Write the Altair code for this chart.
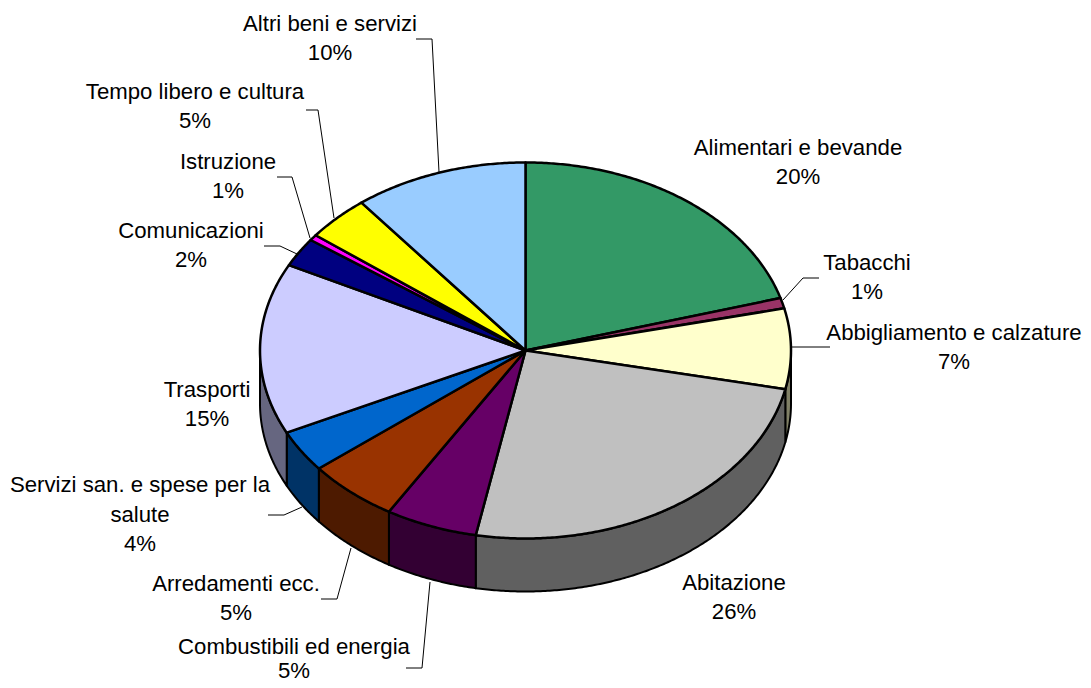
import math
import altair as alt
import pandas as pd

categories = ["Alimentari e bevande", "Tabacchi", "Abbigliamento e calzature", "Abitazione",
              "Combustibili ed energia", "Arredamenti ecc.", "Servizi san. e spese per la\nsalute",
              "Trasporti", "Comunicazioni", "Istruzione", "Tempo libero e cultura", "Altri beni e servizi"]
# share of the pie as drawn (slice sizes)
shares = [20.5, 0.9, 6.9, 24.7, 5.6, 5.6, 3.6, 14.7, 2.5, 0.5, 3.9, 10.6]
# percentages as printed on the labels
printed = [20, 1, 7, 26, 5, 5, 4, 15, 2, 1, 5, 10]
top_colors = ["#339966", "#993366", "#FFFFCC", "#C0C0C0", "#660066", "#993300",
              "#0066CC", "#CCCCFF", "#000080", "#FF00FF", "#FFFF00", "#99CCFF"]
side_colors = ["#1A4D33", "#4D1A33", "#808066", "#606060", "#330033", "#4D1A00",
               "#003366", "#666680", "#000040", "#800080", "#808000", "#4D6680"]

# layout of the labels: centre x, centre y of the first line, line gap, in page pixels
label_x = [798, 867, 954, 734, 294, 236, 140, 207, 191, 228, 195, 330]
label_y = [148, 263, 333, 583, 647, 584, 485, 390, 231, 162, 92, 24]
label_gap = [29, 29, 29, 29, 24, 29, 29.5, 29, 29, 29, 29, 29]
# leader lines, page pixels
leaders = {
    "Tabacchi": [(819, 278), (803, 278), (783, 300)],
    "Abbigliamento": [(830, 347), (792, 347)],
    "Combustibili": [(406, 668), (422, 668), (430, 582)],
    "Arredamenti": [(321, 599), (337, 599), (351, 548)],
    "Servizi": [(268, 515), (284, 515), (302, 507)],
    "Comunicazioni": [(264, 246), (280, 246), (297, 254)],
    "Istruzione": [(277, 177), (292, 177), (310, 238)],
    "Tempo": [(306, 110), (318, 110), (334, 218)],
    "Altri": [(416, 39), (432, 39), (439, 172)],
}

CX, CY, RX, RY, DEPTH = 525.5, 350.5, 265.5, 188.0, 53.0
W, H = 1075, 675


def pt(t, dy=0.0):
    return [CX + RX * math.sin(t), CY - RY * math.cos(t) + dy]


def arc(a, b, dy=0.0):
    n = max(2, int(abs(b - a) / math.radians(0.5)))
    return [pt(a + (b - a) * i / n, dy) for i in range(n + 1)]


def feature(ring, color):
    ring = ring + [ring[0]]
    return {"type": "Feature", "properties": {"color": color},
            "geometry": {"type": "Polygon", "coordinates": [ring]}}


total = sum(shares)
tops, walls = [], []
acc = 0.0
for s, c, sc in zip(shares, top_colors, side_colors):
    a = 2 * math.pi * acc / total
    b = 2 * math.pi * (acc + s) / total
    acc += s
    tops.append(feature([[CX, CY]] + arc(a, b), c))
    lo, hi = max(a, math.pi / 2), min(b, 3 * math.pi / 2)
    if lo < hi:
        walls.append(feature(arc(lo, hi) + arc(hi, lo, DEPTH), sc))

proj = dict(type="identity", scale=1, translate=[-8, -8])
xs = alt.Scale(domain=[8, 8 + W], range=[0, W])
ys = alt.Scale(domain=[8, 8 + H], range=[0, H])

wall_layer = alt.Chart(alt.Data(values=walls)).mark_geoshape(
    stroke="#000000", strokeWidth=2, strokeJoin="round"
).encode(fill=alt.Fill("properties.color:N", scale=None)).project(**proj)
top_layer = alt.Chart(alt.Data(values=tops)).mark_geoshape(
    stroke="#000000", strokeWidth=2.5, strokeJoin="round"
).encode(fill=alt.Fill("properties.color:N", scale=None)).project(**proj)

rows = []
for k, pts in leaders.items():
    for i, (x, y) in enumerate(pts):
        rows.append({"k": k, "i": i, "x": x, "y": y})
leader_layer = alt.Chart(pd.DataFrame(rows)).mark_line(
    color="#000000", strokeWidth=1, interpolate="linear"
).encode(
    x=alt.X("x:Q", scale=xs, axis=None),
    y=alt.Y("y:Q", scale=ys, axis=None),
    detail="k:N",
    order="i:Q",
)

lines = []
for c, p, x, y, g in zip(categories, printed, label_x, label_y, label_gap):
    for j, part in enumerate(c.split("\n") + [f"{p}%"]):
        lines.append({"t": part, "x": x, "y": y + j * g})
text_layer = alt.Chart(pd.DataFrame(lines)).mark_text(
    font="Liberation Sans", fontSize=22.2, color="#000000", align="center", baseline="middle"
).encode(
    x=alt.X("x:Q", scale=xs, axis=None),
    y=alt.Y("y:Q", scale=ys, axis=None),
    text="t:N",
)

chart = alt.layer(wall_layer, top_layer, leader_layer, text_layer).resolve_scale(
    x="shared", y="shared"
).properties(
    width=W, height=H, padding=0, autosize=alt.AutoSizeParams(type="none"), background="#ffffff"
).configure_view(stroke=None)

chart.save("out.html", embed_options={"renderer": "svg", "actions": False})
